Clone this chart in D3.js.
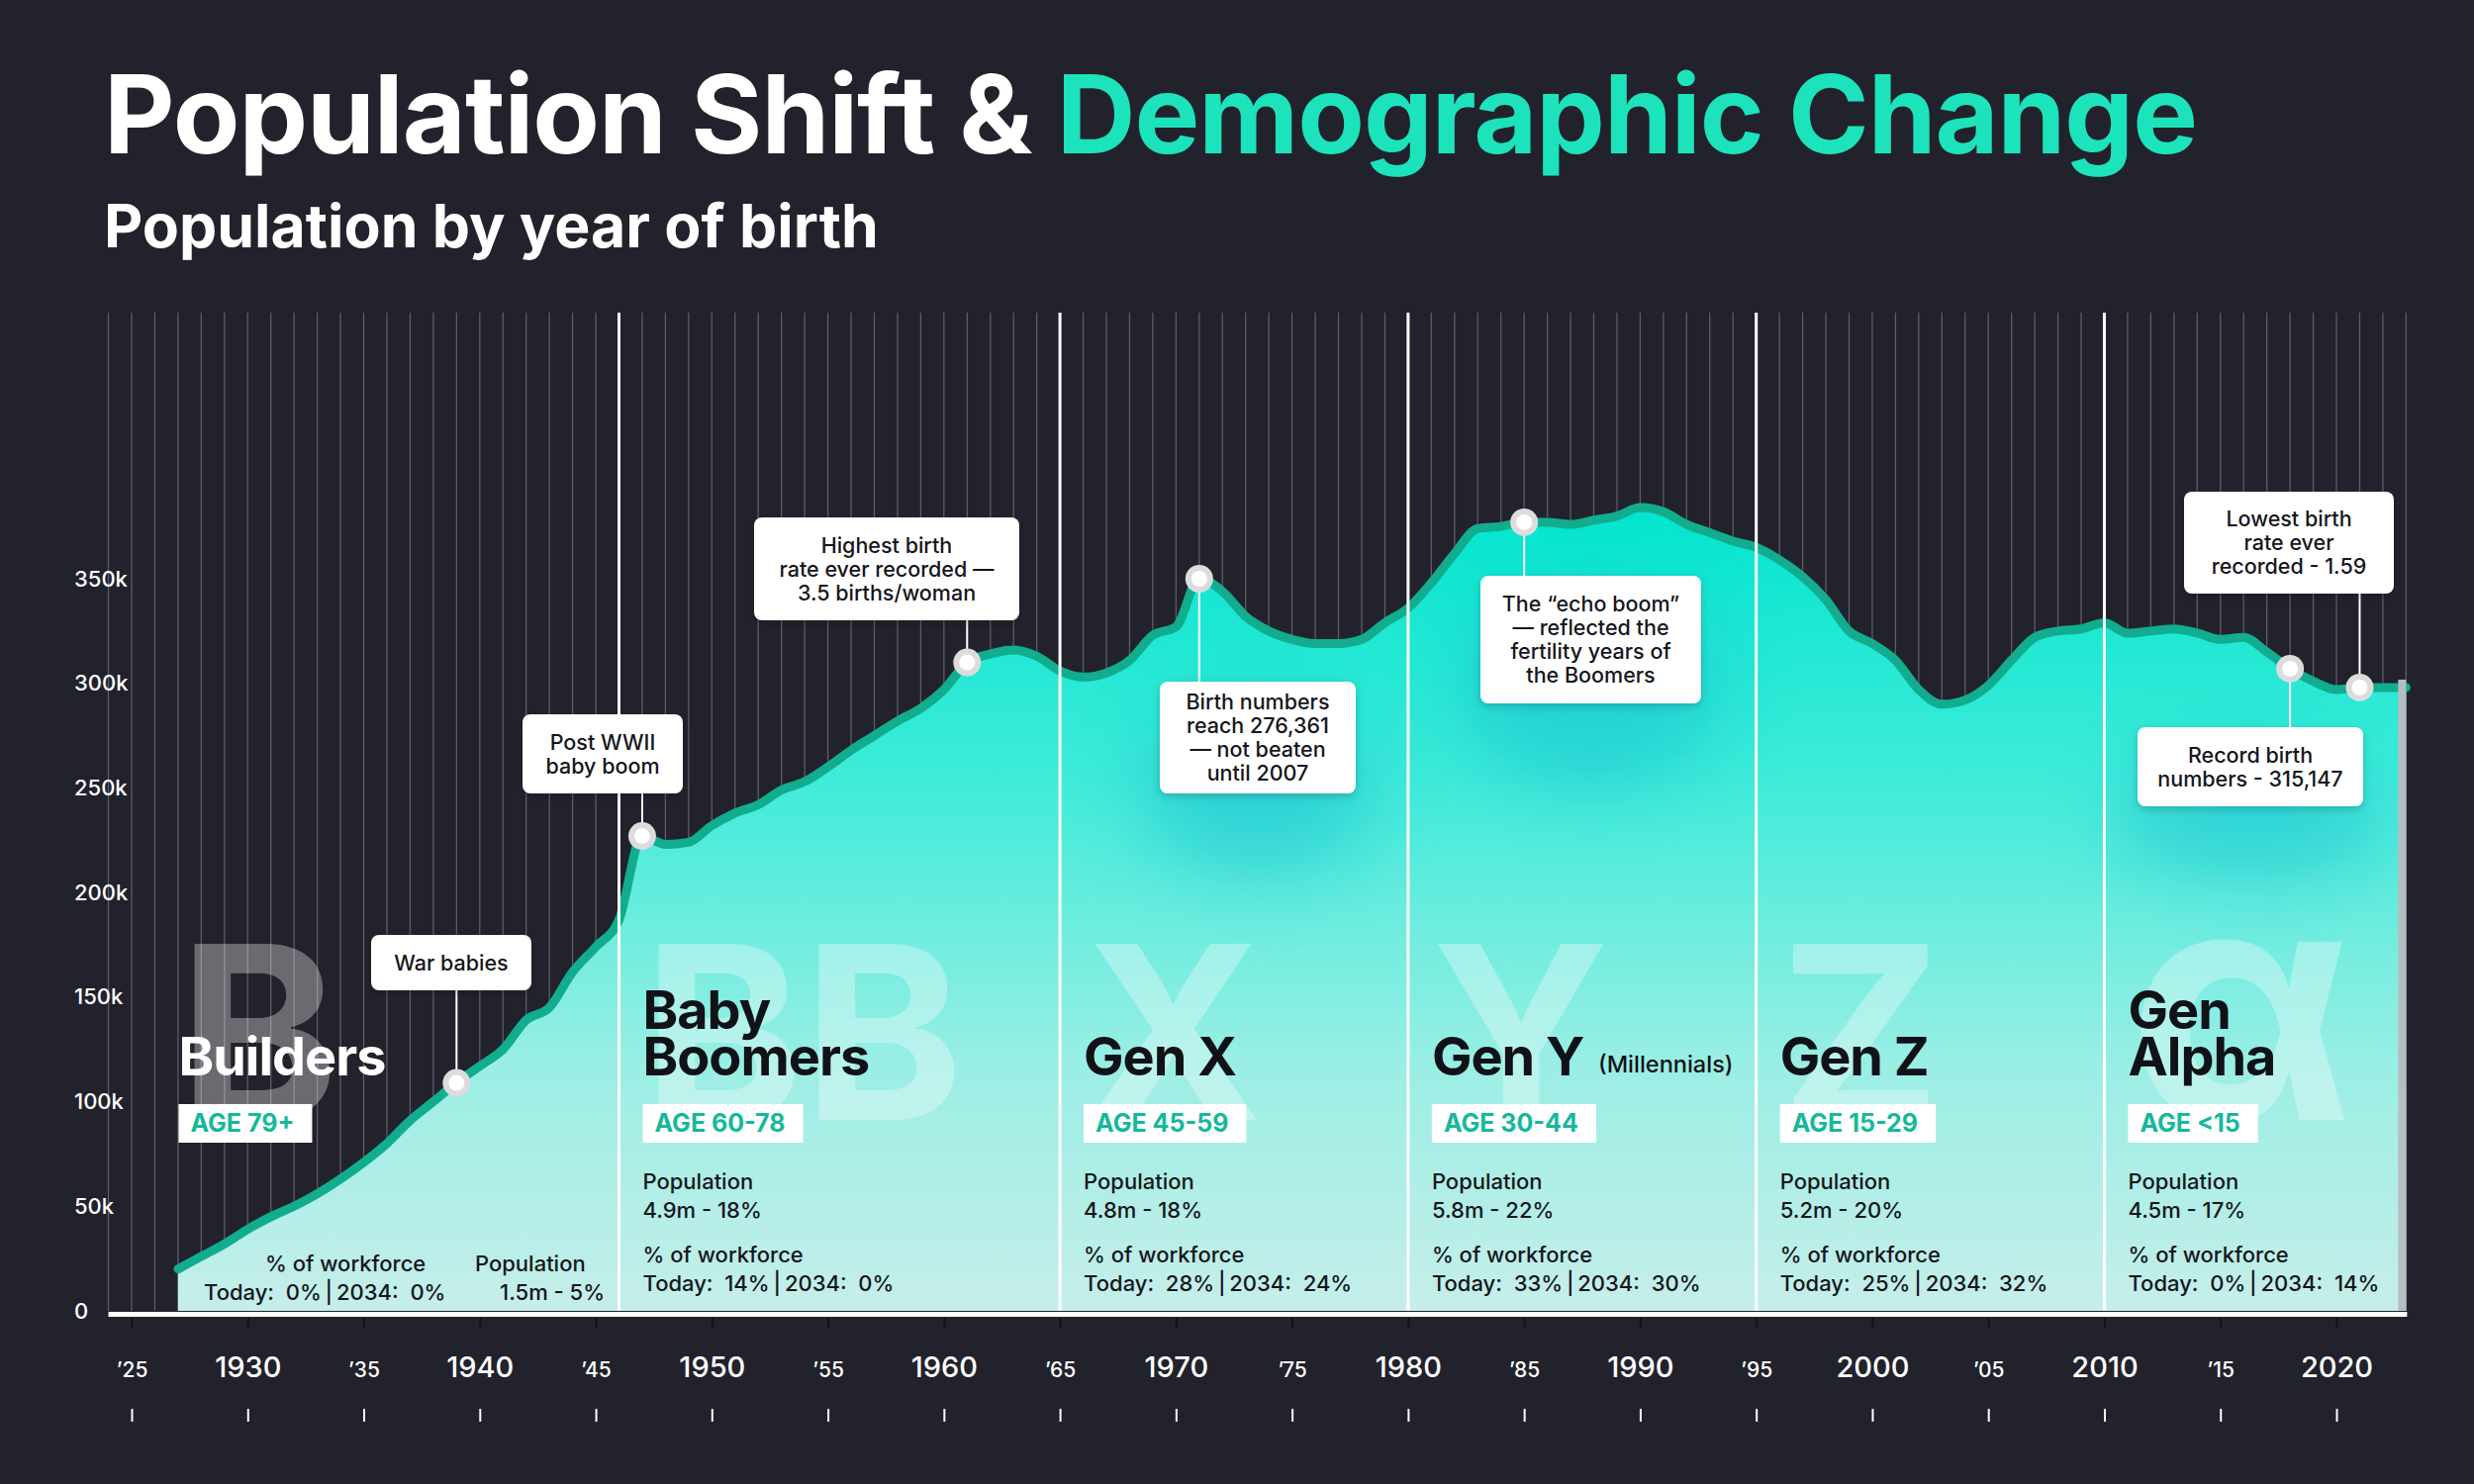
<!DOCTYPE html>
<html>
<head>
<meta charset="utf-8">
<script src="https://cdn.jsdelivr.net/npm/d3@7"></script>
<style>
  body { margin: 0; background: #21222b; }
  svg { display: block; font-family: Inter, "Noto Sans", sans-serif; }
</style>
</head>
<body>
<script>
// births by year of birth (thousands)
var years = [1927, 1928, 1929, 1930, 1931, 1932, 1933, 1934, 1935, 1936,
  1937, 1938, 1939, 1940, 1941, 1942, 1943, 1944, 1945, 1946,
  1947, 1948, 1949, 1950, 1951, 1952, 1953, 1954, 1955, 1956,
  1957, 1958, 1959, 1960, 1961, 1962, 1963, 1964, 1965, 1966,
  1967, 1968, 1969, 1970, 1971, 1972, 1973, 1974, 1975, 1976,
  1977, 1978, 1979, 1980, 1981, 1982, 1983, 1984, 1985, 1986,
  1987, 1988, 1989, 1990, 1991, 1992, 1993, 1994, 1995, 1996,
  1997, 1998, 1999, 2000, 2001, 2002, 2003, 2004, 2005, 2006,
  2007, 2008, 2009, 2010, 2011, 2012, 2013, 2014, 2015, 2016,
  2017, 2018, 2019, 2020, 2021, 2022, 2023];
var births = [20, 26, 32, 39, 45, 50, 56, 63, 71, 80,
  91, 100, 109, 117, 125, 139, 145, 162, 174, 187,
  227, 223, 224, 232, 238, 242, 249, 253, 260, 268,
  275, 282, 288, 297, 310, 314, 316, 313, 306, 303,
  305, 311, 323, 327, 350, 344, 332, 325, 321, 319,
  319, 321, 329, 336, 348, 362, 374, 375, 377, 377,
  376, 378, 380, 384, 382, 376, 372, 368, 365, 359,
  351, 340, 325, 319, 311, 297, 290, 292, 299, 311,
  322, 325, 326, 329, 324, 325, 326, 324, 321, 322,
  315, 307, 301, 297, 298, 298, 298];

var yTicks = [0, 50000, 100000, 150000, 200000, 250000, 300000, 350000];
var xTickYears = [1925, 1930, 1935, 1940, 1945, 1950, 1955, 1960, 1965, 1970, 1975,
  1980, 1985, 1990, 1995, 2000, 2005, 2010, 2015, 2020];

// generations
var genNames = [['Builders'], ['Baby', 'Boomers'], ['Gen X'], ['Gen Y'], ['Gen Z'], ['Gen', 'Alpha']];
var genLetters = ['B', 'BB', 'X', 'Y', 'Z', 'α'];
var genStart = [1926, 1946, 1965, 1980, 1995, 2010];
var genAges = ['AGE 79+', 'AGE 60-78', 'AGE 45-59', 'AGE 30-44', 'AGE 15-29', 'AGE <15'];
var genPop = ['1.5m - 5%', '4.9m - 18%', '4.8m - 18%', '5.8m - 22%', '5.2m - 20%', '4.5m - 17%'];
var genToday = ['0%', '14%', '28%', '33%', '25%', '0%'];
var gen2034 = ['0%', '0%', '24%', '30%', '32%', '14%'];

// callouts
var noteYears = [1939, 1947, 1961, 1971, 1985, 2018, 2021];
var noteTexts = [
  ['War babies'],
  ['Post WWII', 'baby boom'],
  ['Highest birth', 'rate ever recorded \u2014', '3.5 births/woman'],
  ['Birth numbers', 'reach 276,361', '\u2014 not beaten', 'until 2007'],
  ['The \u201cecho boom\u201d', '\u2014 reflected the', 'fertility years of', 'the Boomers'],
  ['Record birth', 'numbers - 315,147'],
  ['Lowest birth', 'rate ever', 'recorded - 1.59']
];
// box geometry (layout only)
var noteBoxes = [
  {x: 375, y: 945, w: 162, h: 56},
  {x: 528, y: 722, w: 162, h: 80},
  {x: 762, y: 523, w: 268, h: 104},
  {x: 1172, y: 689, w: 198, h: 113},
  {x: 1496, y: 582, w: 223, h: 129},
  {x: 2160, y: 735, w: 228, h: 80},
  {x: 2207, y: 497, w: 212, h: 103}
];

var W = 2500, H = 1500;
var base = 1325;

var svg = d3.select('body').append('svg')
  .attr('width', W)
  .attr('height', H);

var defs = svg.append('defs');

var grad = defs.append('linearGradient')
  .attr('id', 'areaGrad')
  .attr('gradientUnits', 'userSpaceOnUse')
  .attr('x1', 0).attr('x2', 0).attr('y1', 500).attr('y2', base);
grad.append('stop').attr('offset', 0).attr('stop-color', '#00e5cf');
grad.append('stop').attr('offset', 0.35).attr('stop-color', '#3febd9');
grad.append('stop').attr('offset', 0.7).attr('stop-color', '#9aeee4');
grad.append('stop').attr('offset', 1).attr('stop-color', '#c6eeea');

defs.append('filter').attr('id', 'glow')
  .attr('x', '-100%').attr('y', '-100%').attr('width', '300%').attr('height', '300%')
  .append('feGaussianBlur').attr('stdDeviation', 35);

var shadow = defs.append('filter').attr('id', 'shadow')
  .attr('x', '-20%').attr('y', '-20%').attr('width', '140%').attr('height', '160%');
shadow.append('feDropShadow')
  .attr('dx', 0).attr('dy', 3).attr('stdDeviation', 4)
  .attr('flood-color', '#000').attr('flood-opacity', 0.2);

svg.append('rect').attr('width', W).attr('height', H).attr('fill', '#21222b');

// titles
var fitWidth = function(sel, target) {
  var w = sel.node().getComputedTextLength();
  var fs = parseFloat(sel.attr('font-size'));
  sel.attr('font-size', fs * target / w);
};

var title = svg.append('text')
  .attr('x', 105).attr('y', 155)
  .attr('font-size', 110)
  .attr('font-weight', 700)
  .attr('letter-spacing', -1);
title.append('tspan').attr('fill', '#ffffff').text('Population Shift & ');
title.append('tspan').attr('fill', '#1ce3bc').text('Demographic Change');
fitWidth(title, 2115);

var subtitle = svg.append('text')
  .attr('x', 105).attr('y', 250)
  .attr('font-size', 62)
  .attr('font-weight', 700)
  .attr('fill', '#ffffff')
  .text('Population by year of birth');
fitWidth(subtitle, 783);

// scales
var x = d3.scaleLinear().domain([1925, 2020]).range([133, 2361]);
var y = d3.scaleLinear().domain([0, 350000]).range([base, 585]);

// yearly grid
var gridYears = d3.range(1924, 2024);
svg.append('g').selectAll('line')
  .data(gridYears)
  .enter()
  .append('line')
  .attr('x1', function(d) { return x(d); })
  .attr('x2', function(d) { return x(d); })
  .attr('y1', 316)
  .attr('y2', base)
  .attr('stroke', '#5c5d68')
  .attr('stroke-width', 1.3);

var data = years.map(function(d, i) { return {year: d, value: births[i] * 1000}; });

var area = d3.area()
  .x(function(d) { return x(d.year); })
  .y0(base)
  .y1(function(d) { return y(d.value); })
  .curve(d3.curveMonotoneX);

var line = d3.line()
  .x(function(d) { return x(d.year); })
  .y(function(d) { return y(d.value); })
  .curve(d3.curveMonotoneX);

defs.append('clipPath').attr('id', 'areaClip')
  .append('path').attr('d', area(data));

svg.append('path')
  .attr('d', area(data))
  .attr('fill', 'url(#areaGrad)');

// soft glows under the boxes that sit inside the area
var glowG = svg.append('g').attr('clip-path', 'url(#areaClip)');
[3, 4, 5].forEach(function(i) {
  var b = noteBoxes[i];
  glowG.append('ellipse')
    .attr('cx', b.x + b.w / 2)
    .attr('cy', b.y + b.h / 2 + 50)
    .attr('rx', b.w * 0.6)
    .attr('ry', b.h * 0.8)
    .attr('fill', '#17bfd2')
    .attr('opacity', 0.5)
    .attr('filter', 'url(#glow)');
});

// generation letters
var letters = svg.append('g');
letters.selectAll('text')
  .data(genLetters)
  .enter()
  .append('text')
  .attr('x', function(d, i) { return x(genStart[i]) + 24; })
  .attr('y', 1132)
  .attr('font-size', function(d) { return d === 'α' ? 330 : 245; })
  .attr('font-weight', 700)
  .attr('fill', '#ffffff')
  .attr('opacity', 0.33)
  .text(function(d) { return d; });

svg.append('path')
  .attr('d', line(data))
  .attr('fill', 'none')
  .attr('stroke', '#11ad8e')
  .attr('stroke-width', 9)
  .attr('stroke-linecap', 'round')
  .attr('stroke-linejoin', 'round');

// right edge of the area
var last = data[data.length - 1];
svg.append('rect')
  .attr('x', x(last.year) - 8)
  .attr('y', y(last.value) - 8)
  .attr('width', 8)
  .attr('height', base - y(last.value) + 8)
  .attr('fill', '#b6bdbf');

// generation boundaries
svg.append('g').selectAll('line')
  .data(genStart.slice(1))
  .enter()
  .append('line')
  .attr('x1', function(d) { return x(d); })
  .attr('x2', function(d) { return x(d); })
  .attr('y1', 316)
  .attr('y2', base)
  .attr('stroke', '#ffffff')
  .attr('stroke-width', 3);

// baseline
svg.append('rect')
  .attr('x', x(1924))
  .attr('y', base + 1)
  .attr('width', x(2023) - x(1924) + 1)
  .attr('height', 5)
  .attr('fill', '#ffffff');

// x axis
var fmtYear = function(d) { return d % 10 === 0 ? String(d) : '\u2019' + String(d).slice(2); };
var xAxis = d3.axisBottom(x).tickValues(xTickYears).tickSize(10).tickPadding(0).tickFormat(fmtYear);
var gx = svg.append('g').attr('transform', 'translate(0,' + (base + 7) + ')').call(xAxis);
gx.select('.domain').remove();
gx.selectAll('.tick line').attr('stroke', '#111217').attr('stroke-width', 2);
gx.selectAll('.tick text')
  .attr('y', 60).attr('dy', 0)
  .attr('fill', '#ffffff')
  .attr('font-family', 'Inter, "Noto Sans", sans-serif')
  .attr('font-weight', 500)
  .attr('font-size', function(d) { return d % 10 === 0 ? 29 : 21; });

var xAxis2 = d3.axisBottom(x).tickValues(xTickYears).tickSize(13).tickFormat('');
var gx2 = svg.append('g').attr('transform', 'translate(0,1424)').call(xAxis2);
gx2.select('.domain').remove();
gx2.selectAll('.tick line').attr('stroke', '#ffffff').attr('stroke-width', 2);

// y axis
var yAxis = d3.axisRight(y).tickValues(yTicks).tickSize(0).tickPadding(0)
  .tickFormat(function(d) { return d === 0 ? '0' : (d / 1000) + 'k'; });
var gy = svg.append('g').attr('transform', 'translate(75,0)').call(yAxis);
gy.select('.domain').remove();
gy.selectAll('.tick text')
  .attr('fill', '#ffffff')
  .attr('font-family', 'Inter, "Noto Sans", sans-serif')
  .attr('font-weight', 500)
  .attr('font-size', 22);

// generation labels
var gens = svg.append('g');
genNames.forEach(function(lines, i) {
  var sx = x(genStart[i]) + 24;
  var dark = i === 0 ? '#ffffff' : '#111217';
  lines.forEach(function(t, j) {
    gens.append('text')
      .attr('x', sx)
      .attr('y', 1087 - (lines.length - 1 - j) * 47)
      .attr('font-size', 54)
      .attr('font-weight', 700)
      .attr('letter-spacing', -1)
      .attr('fill', dark)
      .text(t);
  });

  var ageBox = gens.append('rect')
    .attr('x', sx).attr('y', 1116).attr('height', 39)
    .attr('fill', '#ffffff');
  var age = gens.append('text')
    .attr('x', sx + 12).attr('y', 1144)
    .attr('font-size', 25)
    .attr('font-weight', 700)
    .attr('fill', '#16b89b')
    .text(genAges[i]);
  ageBox.attr('width', age.node().getComputedTextLength() + 30);

  var stat = function(px, py, t) {
    gens.append('text')
      .attr('x', px).attr('y', py)
      .attr('font-size', 22)
      .attr('font-weight', 500)
      .attr('fill', '#15161c')
      .style('white-space', 'pre')
      .text(t);
  };
  var todayLine = 'Today:  ' + genToday[i] + '\u2009|\u20092034:  ' + gen2034[i];
  if (i === 0) {
    stat(268, 1285, '% of workforce');
    stat(206, 1314, todayLine);
    stat(480, 1285, 'Population');
    stat(505, 1314, genPop[i]);
  } else {
    stat(sx, 1202, 'Population');
    stat(sx, 1231, genPop[i]);
    stat(sx, 1276, '% of workforce');
    stat(sx, 1305, todayLine);
  }
});

gens.append('text')
  .attr('x', 1615).attr('y', 1084)
  .attr('font-size', 23.5)
  .attr('font-weight', 500)
  .attr('fill', '#111217')
  .text('(Millennials)');

// callouts
var valueOf = function(yr) { return births[years.indexOf(yr)] * 1000; };
var notes = svg.append('g');
noteYears.forEach(function(yr, i) {
  var b = noteBoxes[i];
  var px = x(yr), py = y(valueOf(yr));
  var edge = py > b.y + b.h ? b.y + b.h : b.y;
  notes.append('line')
    .attr('x1', px).attr('x2', px)
    .attr('y1', py).attr('y2', edge)
    .attr('stroke', '#ffffff')
    .attr('stroke-width', 2);
  notes.append('circle')
    .attr('cx', px).attr('cy', py).attr('r', 14)
    .attr('fill', '#dcdcdc');
  notes.append('circle')
    .attr('cx', px).attr('cy', py).attr('r', 8)
    .attr('fill', '#ffffff');

  notes.append('rect')
    .attr('x', b.x).attr('y', b.y)
    .attr('width', b.w).attr('height', b.h)
    .attr('rx', 8)
    .attr('fill', '#ffffff')
    .attr('filter', 'url(#shadow)');
  var lines = noteTexts[i];
  var cy = b.y + b.h / 2;
  lines.forEach(function(t, j) {
    notes.append('text')
      .attr('x', b.x + b.w / 2)
      .attr('y', cy + (j - (lines.length - 1) / 2) * 24 + 7.5)
      .attr('text-anchor', 'middle')
      .attr('font-size', 21.5)
      .attr('font-weight', 500)
      .attr('fill', '#15161c')
      .text(t);
  });
});
</script>
</body>
</html>
